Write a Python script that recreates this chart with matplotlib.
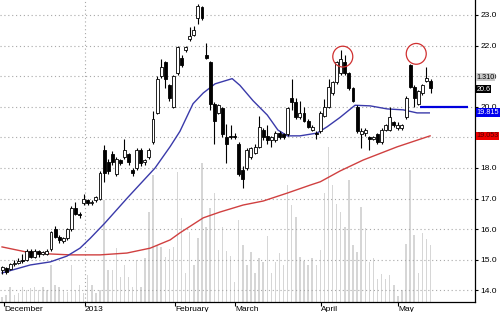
import matplotlib
matplotlib.use("Agg")
import matplotlib.pyplot as plt
from matplotlib.patches import Ellipse, Rectangle
from matplotlib.transforms import blended_transform_factory

plt.rcParams["font.family"] = ["Liberation Sans", "DejaVu Sans"]

# daily candles (trading-day index 0..105)
opens = [14.65, 14.72, 14.7, 14.85, 14.9, 15.0, 15.0, 15.3, 15.1, 15.28,
         15.2, 15.2, 15.35, 16.0, 15.75, 15.62, 15.7, 16.0, 16.7, 16.5,
         16.85, 16.95, 16.85, 16.95, 17.0, 18.6, 18.2, 18.45, 17.8, 18.25,
         18.35, 18.45, 17.95, 18.0, 18.6, 18.2, 18.35, 18.85, 19.8, 21.0,
         21.45, 20.7, 20.0, 21.1, 21.6, 21.85, 22.2, 22.35, 22.9, 23.25,
         21.7, 21.45, 20.1, 19.8, 19.95, 19.0, 19.05, 19.05, 18.8, 17.95,
         18.0, 18.35, 18.5, 18.7, 19.25, 19.05, 18.9, 18.9, 19.15, 19.1,
         19.1, 20.3, 20.15, 19.65, 19.8, 19.55, 19.25, 19.15, 19.2, 19.7,
         20.0, 20.45, 20.8, 21.1, 21.45, 21.1, 20.6, 20.0, 19.1, 19.15,
         19.0, 18.95, 19.1, 18.85, 19.25, 19.25, 19.5, 19.3, 19.3, 19.65,
         21.35, 20.65, 20.1, 20.45, 20.85, 20.85]
closes = [14.75, 14.6, 14.85, 14.9, 14.95, 14.95, 15.3, 15.1, 15.3, 15.2,
          15.25, 15.3, 15.9, 15.75, 15.65, 15.7, 16.0, 16.7, 16.5, 16.45,
          17.0, 16.85, 16.9, 17.05, 17.85, 17.85, 17.9, 18.2, 18.3, 18.15,
          18.6, 18.2, 17.85, 18.6, 18.15, 18.25, 18.6, 19.6, 20.9, 21.3,
          20.9, 20.3, 21.0, 21.95, 21.35, 21.95, 22.3, 22.5, 23.3, 22.9,
          21.6, 20.1, 19.55, 20.05, 19.1, 18.8, 19.0, 19.0, 17.8, 17.65,
          18.6, 18.65, 18.7, 19.35, 19.0, 18.9, 19.0, 19.15, 19.0, 19.0,
          19.95, 20.15, 19.65, 19.8, 19.55, 19.35, 19.35, 19.1, 19.8, 20.0,
          20.65, 20.8, 21.45, 21.55, 21.1, 20.6, 20.2, 19.2, 19.2, 19.25,
          18.95, 19.0, 18.85, 19.25, 19.4, 19.65, 19.4, 19.4, 19.4, 20.3,
          20.65, 20.3, 20.5, 20.7, 20.95, 20.6]
highs = [14.8, 14.78, 14.9, 14.98, 15.05, 15.2, 15.35, 15.35, 15.35, 15.32,
         15.3, 15.35, 15.95, 16.1, 15.8, 15.75, 16.05, 16.75, 16.9, 16.55,
         17.15, 17.0, 16.95, 17.1, 17.9, 18.75, 18.3, 18.55, 18.35, 18.3,
         18.95, 18.5, 18.0, 18.65, 18.65, 18.3, 18.65, 19.85, 21.0, 21.55,
         21.5, 20.75, 21.05, 22.0, 21.7, 22.0, 22.6, 22.65, 23.35, 23.3,
         22.1, 21.5, 20.15, 20.1, 20.0, 19.45, 19.4, 19.15, 18.85, 18.05,
         18.65, 18.7, 18.8, 19.7, 19.3, 19.4, 19.05, 19.2, 19.2, 19.15,
         20.0, 20.9, 20.3, 20.2, 20.0, 19.6, 19.4, 19.2, 19.85, 20.25,
         20.9, 20.85, 21.5, 21.85, 21.7, 21.15, 20.65, 20.05, 19.3, 19.3,
         19.05, 19.05, 19.15, 19.3, 19.45, 20.0, 19.55, 19.5, 19.45, 20.35,
         21.4, 20.7, 20.55, 20.75, 21.3, 20.9]
lows = [14.55, 14.55, 14.65, 14.8, 14.85, 14.9, 14.95, 15.05, 15.05, 15.1,
        15.15, 15.15, 15.3, 15.7, 15.55, 15.55, 15.65, 15.95, 16.45, 16.35,
        16.8, 16.8, 16.8, 16.9, 16.95, 17.55, 17.8, 18.1, 17.75, 18.1,
        18.3, 18.1, 17.75, 17.95, 18.05, 18.1, 18.3, 18.8, 19.75, 20.95,
        20.6, 20.2, 19.95, 21.05, 21.3, 21.8, 22.15, 22.3, 22.7, 22.85,
        21.55, 19.9, 18.8, 19.75, 19.0, 18.15, 18.95, 18.95, 17.75, 17.35,
        17.95, 18.3, 18.45, 18.65, 18.9, 18.8, 18.7, 18.85, 18.95, 18.95,
        19.05, 19.9, 19.6, 19.6, 19.5, 19.3, 19.2, 18.95, 19.15, 19.65,
        19.95, 20.4, 20.75, 21.05, 21.05, 20.55, 20.15, 19.15, 18.65, 19.05,
        18.6, 18.9, 18.8, 18.8, 19.2, 19.2, 19.35, 19.25, 19.25, 19.6,
        20.6, 20.0, 20.05, 20.4, 20.8, 20.45]
volume = [5, 7, 15, 7, 9, 15, 12, 14, 15, 12, 15, 12, 37, 17, 15, 12, 10, 37,
          12, 17, 9, 27, 17, 9, 12, 102, 32, 32, 54, 25, 37, 25, 15, 42, 15,
          44, 90, 127, 57, 55,
          45, 53, 55, 130, 84, 29, 70, 37, 64, 139, 75, 94, 109, 52, 75, 51,
          46, 20, 82, 57, 37, 50, 29, 44, 40, 66, 29, 40, 49, 37, 117, 97, 85,
          45, 41, 37, 44, 37, 52, 109,
          155, 117, 98, 90, 75, 122, 57, 50, 95, 74, 40, 44, 23, 28, 23, 27,
          17, 6, 12, 58, 132, 67, 29, 69, 63, 57]

# moving averages (index, value)
ma_short_x = [0, 6.9, 11.8, 15.9, 19.1, 21.6, 25.2, 30.9, 37.5, 41.2, 43.6,
              46.8, 49.3, 52.2, 56.4, 58.3, 61.5, 65, 67.6, 69.9, 73, 77.2,
              79.7, 82.8, 86.5, 90.2, 94.4, 98.3, 101.7, 104.7]
ma_short = [14.57, 14.83, 14.93, 15.12, 15.38, 15.7, 16.2, 17.05, 18.0, 18.7,
            19.2, 20.1, 20.45, 20.75, 20.92, 20.7, 20.2, 19.73, 19.24, 19.05,
            19.05, 19.14, 19.35, 19.65, 20.05, 20.03, 19.93, 19.9, 19.8, 19.8]
ma_long_x = [0, 6.1, 11.8, 16.7, 24, 30.6, 36.3, 41.2, 43.6, 49.3, 53.4,
             59.1, 64, 69.9, 75.5, 78, 82.8, 88.5, 96.8, 104.9]
ma_long = [15.42, 15.25, 15.19, 15.16, 15.16, 15.22, 15.38, 15.65, 15.88,
           16.37, 16.56, 16.79, 16.92, 17.18, 17.44, 17.55, 17.9, 18.26,
           18.69, 19.05]

month_pos = [0.5, 20.3, 42.4, 57.1, 78.2, 97.1]
month_labels = ["December", "2013", "February", "March", "April", "May"]

circle_x = [83.5, 101.5]
circle_y = [21.64, 21.73]

support_level = 20.0
support_from, support_to = 102.5, 114.2

tags = [(20.97, "1.310", "#c8c8c8", "#000000"),
        (20.58, "20.6", "#000000", "#ffffff"),
        (19.815, "19.815", "#0000ee", "#ffffff"),
        (19.053, "19.053", "#ee0000", "#550000")]

fig = plt.figure(figsize=(5, 3.12), dpi=100)
pos = [0.0, 10 / 312, 475 / 500, 302 / 312]

ax_vol = fig.add_axes(pos)
ax_vol.bar(range(len(volume)), volume, width=0.35, color="#d6d6d6", zorder=1)
ax_vol.set_ylim(0, 302)
ax_vol.set_xlim(-0.5, 115.9)
ax_vol.axis("off")

ax = fig.add_axes(pos, sharex=ax_vol)
ax.patch.set_alpha(0)
ax.set_ylim(13.62, 23.49)

for lvl in range(14, 24):
    ax.axhline(lvl, color="#a8a8a8", lw=0.8, ls=(0, (1, 2.5)), zorder=2)
ax.axvline(month_pos[1], color="#a8a8a8", lw=0.8, ls=(0, (1, 2.5)), zorder=2)

ax.plot(ma_long_x, ma_long, color="#d04040", lw=1, zorder=3)
ax.plot(ma_short_x, ma_short, color="#3a3aaa", lw=1, zorder=3)

w = 0.72
for i in range(len(opens)):
    o, c = opens[i], closes[i]
    ax.vlines(i, lows[i], highs[i], color="black", lw=0.8, zorder=4)
    up = c >= o
    ax.add_patch(Rectangle((i - w / 2, min(o, c)), w, max(abs(c - o), 0.02),
                           facecolor="white" if up else "black",
                           edgecolor="black", lw=0.6, zorder=5))

for cx, cy in zip(circle_x, circle_y):
    ax.add_patch(Ellipse((cx, cy), 4.9, 0.68, fill=False,
                         edgecolor="#d03030", lw=0.9, zorder=6))

ax.hlines(support_level, support_from, support_to, color="#0000dd", lw=1.6,
          zorder=6)

ax.yaxis.tick_right()
ax.set_yticks(range(14, 24))
ax.set_yticklabels([f"{v}.0" for v in range(14, 24)])
ax.tick_params(axis="y", length=2, labelsize=6, pad=2)
ax.set_xticks(month_pos)
ax.set_xticklabels(month_labels, ha="left")
ax.tick_params(axis="x", length=3, labelsize=6, pad=0)
for spine in ["top", "left"]:
    ax.spines[spine].set_visible(False)
ax.spines["right"].set_linewidth(0.9)
ax.spines["bottom"].set_linewidth(0.9)

tr = blended_transform_factory(ax.transAxes, ax.transData)
for y, txt, bg, fg in tags:
    ax.text(1.003, y, txt, transform=tr, fontsize=5.2, color=fg, va="center",
            ha="left", zorder=10,
            bbox=dict(boxstyle="square,pad=0.1", facecolor=bg,
                      edgecolor="none"))

fig.savefig("out.png", dpi=100)
